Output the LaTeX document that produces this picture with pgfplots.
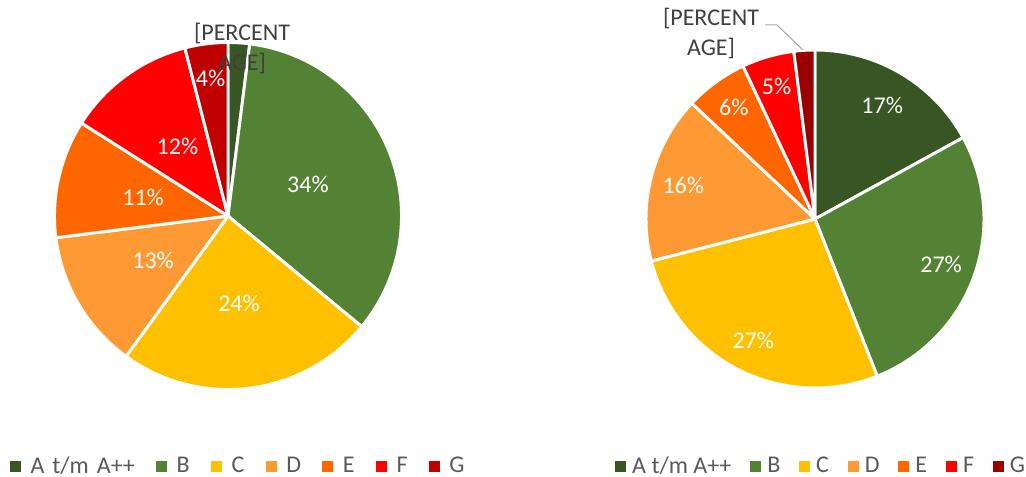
\documentclass[border=0pt]{standalone}
\usepackage{fontspec}
\setmainfont{Carlito}
\usepackage{pgfplots}
\usepackage{pgfplotstable}
\pgfplotsset{compat=1.18}

\definecolor{cA}{HTML}{375623}
\definecolor{cB}{HTML}{548235}
\definecolor{cC}{HTML}{FFC000}
\definecolor{cD}{HTML}{FF9933}
\definecolor{cE}{HTML}{FF6600}
\definecolor{cF}{HTML}{FF0000}
\definecolor{cGl}{HTML}{C00000}
\definecolor{cGr}{HTML}{990000}
\definecolor{txt}{HTML}{595959}
\definecolor{lbl}{HTML}{404040}
\definecolor{ldr}{HTML}{A6A6A6}

\newcommand\labelfont{\fontsize{18}{22.5}\selectfont}
\newcommand\legendfont{\fontsize{18}{21.6}\selectfont}

% name value colour label-distance(px; -1 = outside label)
\pgfplotstableread{
name value colour ldist
A 2 cA -1
B 34 cB 86
C 24 cC 88
D 13 cD 87
E 11 cE 87
F 12 cF 86
G 4 cGl 139
}\lefttable

\pgfplotstableread{
name value colour ldist
A 17 cA 132
B 27 cB 134
C 27 cC 136
D 16 cD 136
E 6 cE 138
F 5 cF 138
G 2 cGr -1
}\righttable

\newcommand\drawpie[4]{% #1 table, #2 cx, #3 cy, #4 radius (px)
  \pgfplotstablegetrowsof{#1}%
  \pgfmathtruncatemacro\pielast{\pgfplotsretval-1}%
  \def\piecum{0}%
  \pgfmathsetmacro\pierad{#4*0.75}%
  \pgfplotsforeachungrouped \pieidx in {0,...,\pielast}{%
    \pgfplotstablegetelem{\pieidx}{value}\of{#1}\let\pieval\pgfplotsretval
    \pgfplotstablegetelem{\pieidx}{colour}\of{#1}\let\piecol\pgfplotsretval
    \pgfplotstablegetelem{\pieidx}{ldist}\of{#1}\let\pield\pgfplotsretval
    \pgfmathsetmacro\piesa{90-3.6*\piecum}%
    \pgfmathsetmacro\pieea{90-3.6*(\piecum+\pieval)}%
    \pgfmathsetmacro\piema{(\piesa+\pieea)/2}%
    \pgfmathsetmacro\piecum{\piecum+\pieval}%
    \pgfmathsetmacro\pielx{#2+\pield*cos(\piema)}%
    \pgfmathsetmacro\piely{#3+\pield*sin(\piema)}%
    \pgfmathtruncatemacro\pievalint{\pieval}%
    \edef\piecmd{\noexpand\fill[\piecol, draw=white, line width=2.2pt, line join=round]
      (axis cs:#2,#3) -- ++(\piesa:\pierad pt) arc[start angle=\piesa, end angle=\pieea, radius=\pierad pt] -- cycle;}%
    \piecmd
    \ifdim\pield pt>0pt
      \edef\piecmd{\noexpand\node[text=white, font=\noexpand\labelfont, inner sep=0pt] at (axis cs:\pielx,\piely) {\pievalint\noexpand\%};}%
      \piecmd
    \fi
  }%
}

\newcommand\legsq[1]{\addlegendimage{legend image code/.code={\fill[#1] (0pt,-3.75pt) rectangle (7.5pt,3.75pt);}}}

\begin{document}
\begin{tikzpicture}
\useasboundingbox (0,0) rectangle (769.5pt,357.75pt);
\begin{axis}[
  at={(0,0)}, anchor=south west,
  x=0.75pt, y=0.75pt, xmin=0, xmax=513, ymin=0, ymax=477,
  hide axis, clip=false, scale only axis,
  legend style={at={(axis cs:10,11)}, anchor=west, draw=none, fill=none,
    inner sep=0pt, outer sep=0pt, font=\legendfont,
    nodes={text=txt, inner sep=0pt, outer sep=0pt},
    /tikz/every odd column/.append style={column sep=7.5pt},
    /tikz/every even column/.append style={column sep=16pt}},
  legend columns=-1,
]
\drawpie{\lefttable}{228}{261}{173.5}
\node[text=lbl, font=\labelfont, align=center, inner sep=0pt] at (axis cs:242,429) {[PERCENT\\AGE]};
\legsq{cA}\addlegendentry{A\hspace{6pt}t/m\hspace{6pt}A++}
\legsq{cB}\addlegendentry{B}
\legsq{cC}\addlegendentry{C}
\legsq{cD}\addlegendentry{D}
\legsq{cE}\addlegendentry{E}
\legsq{cF}\addlegendentry{F}
\legsq{cGl}\addlegendentry{G}
\end{axis}
\begin{axis}[
  at={(384.75pt,0)}, anchor=south west,
  x=0.75pt, y=0.75pt, xmin=513, xmax=1026, ymin=0, ymax=477,
  hide axis, clip=false, scale only axis,
  legend style={at={(axis cs:615,11)}, anchor=west, draw=none, fill=none,
    inner sep=0pt, outer sep=0pt, font=\legendfont,
    nodes={text=txt, inner sep=0pt, outer sep=0pt},
    /tikz/every odd column/.append style={column sep=5pt},
    /tikz/every even column/.append style={column sep=14pt}},
  legend columns=-1,
]
\drawpie{\righttable}{815}{258}{169}
\node[text=lbl, font=\labelfont, align=center, inner sep=0pt] at (axis cs:711,444) {[PERCENT\\AGE]};
\draw[ldr, line width=0.75pt] (axis cs:765,452) -- (axis cs:777,452) -- (axis cs:803,427);
\legsq{cA}\addlegendentry{A t/m A++}
\legsq{cB}\addlegendentry{B}
\legsq{cC}\addlegendentry{C}
\legsq{cD}\addlegendentry{D}
\legsq{cE}\addlegendentry{E}
\legsq{cF}\addlegendentry{F}
\legsq{cGr}\addlegendentry{G}
\end{axis}
\end{tikzpicture}
\end{document}
